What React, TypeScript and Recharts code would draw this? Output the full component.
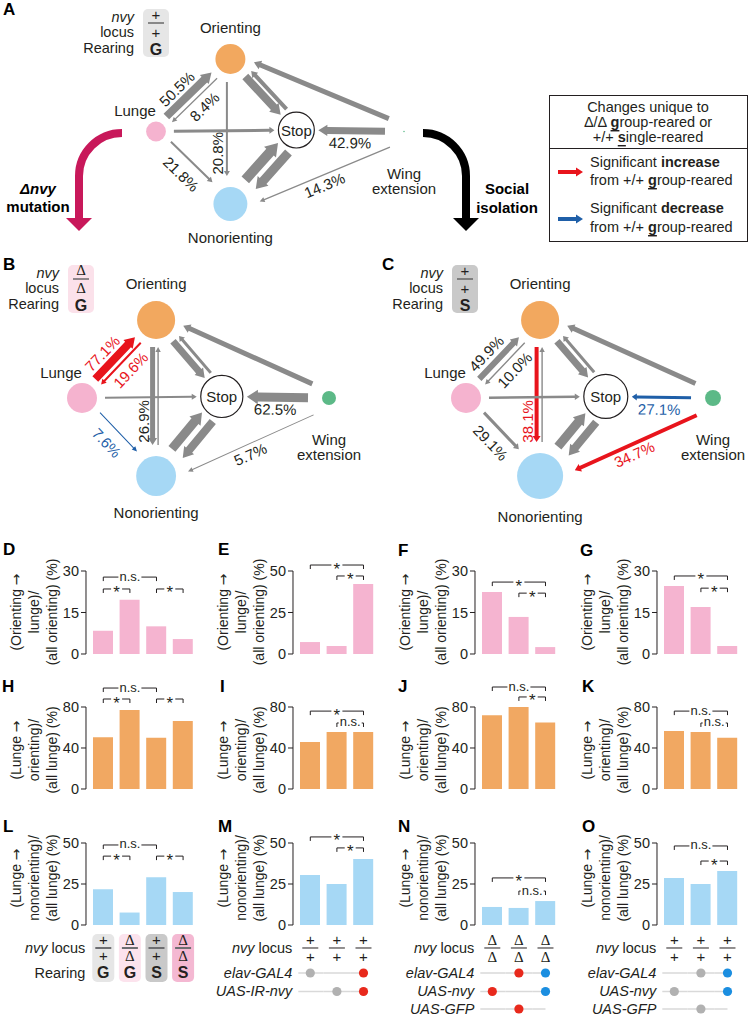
import React from 'react';
import {
  BarChart,
  Bar,
  XAxis,
  YAxis,
  ZAxis,
  ReferenceLine,
  ScatterChart,
  Scatter,
} from 'recharts';

const FONT = '"Liberation Sans", Arial, Helvetica, sans-serif';
const SERIF = '"Liberation Serif", "Times New Roman", serif';
const ARROW_FONT = '"DejaVu Sans", "Liberation Sans", sans-serif';
const INK = '#231f20';
const ARROW_GRAY = '#8a8a8a';
const RED = '#e8141c';
const BLUE = '#1f5fa8';
const PINK = '#f5b4d0';
const ORANGE = '#f1a862';
const SKY = '#a6d8f5';

// ---------- transition networks (A-C) ----------
const nodeCodes = ['O', 'L', 'S', 'W', 'N'];
const nodeNames = ['Orienting', 'Lunge', 'Stop', 'Wing extension', 'Nonorienting'];
// relative node sizes (occupancy)
const nodeFreqA = [39, 17, 56, 0.1, 50];
const nodeFreqB = [63, 39, 77, 8.5, 69];
const nodeFreqC = [63, 39, 84, 11, 92];

// from, to, weight (arrow thickness), label, change vs +/+ group
type Edge = [string, string, number, string, string];
const edgesA: Edge[] = [
  ['L', 'O', 80, '50.5%', ''],
  ['O', 'L', 12, '8.4%', ''],
  ['O', 'N', 20, '20.8%', ''],
  ['L', 'S', 30, '', ''],
  ['L', 'N', 20, '21.8%', ''],
  ['O', 'S', 80, '', ''],
  ['S', 'O', 40, '', ''],
  ['N', 'S', 100, '', ''],
  ['S', 'N', 90, '', ''],
  ['W', 'O', 50, '', ''],
  ['W', 'S', 70, '42.9%', ''],
  ['W', 'N', 12, '14.3%', ''],
];
const edgesB: Edge[] = [
  ['L', 'O', 80, '77.1%', 'up'],
  ['O', 'L', 20, '19.6%', 'up'],
  ['O', 'N', 50, '26.9%', ''],
  ['N', 'O', 14, '', ''],
  ['L', 'S', 20, '', ''],
  ['L', 'N', 10, '7.6%', 'down'],
  ['O', 'S', 70, '', ''],
  ['S', 'O', 30, '', ''],
  ['N', 'S', 90, '', ''],
  ['S', 'N', 80, '', ''],
  ['W', 'O', 50, '', ''],
  ['W', 'S', 90, '62.5%', ''],
  ['W', 'N', 10, '5.7%', ''],
];
const edgesC: Edge[] = [
  ['L', 'O', 60, '49.9%', ''],
  ['O', 'L', 14, '10.0%', ''],
  ['O', 'N', 40, '38.1%', 'up'],
  ['N', 'O', 14, '', ''],
  ['L', 'S', 25, '', ''],
  ['L', 'N', 30, '29.1%', ''],
  ['O', 'S', 70, '', ''],
  ['S', 'O', 30, '', ''],
  ['N', 'S', 90, '', ''],
  ['S', 'N', 80, '', ''],
  ['W', 'O', 50, '', ''],
  ['W', 'S', 30, '27.1%', 'down'],
  ['W', 'N', 40, '34.7%', 'up'],
];

// layout of the diagram (unit box: lunge..wing across, orienting..nonorienting down)
const nodeXY: Record<string, [number, number]> = {
  O: [0.3, 0],
  L: [0, 0.5],
  S: [0.566, 0.49],
  W: [1, 0.5],
  N: [0.3, 1],
};
const nodeGap: Record<string, number> = { O: 8, L: 8, S: 4, W: 14, N: 11 };
const edgeShift: Record<string, number> = {
  LO: -3.5, OL: -4.5, ON: 3.5, NO: 2, OS: 1, SO: 7, NS: -5, SN: -9,
  LS: 0, LN: -3, WO: 6, WS: 0, WN: -9,
};
const labelAt: Record<string, [number, number]> = {
  LO: [0.43, -16], OL: [0.5, -16], ON: [0.65, 13], LN: [0.46, 13], WS: [0.5, -12], WN: [0.5, -19],
};
const nodeFill: Record<string, string> = {
  O: '#f2a85f', L: '#f5b3cf', S: '#ffffff', W: '#5cb987', N: '#a6d8f5',
};
const R_MAX = 24;
const rOf = (z: number) => R_MAX * Math.sqrt(z / 100);

// ---------- bar panels (D-O) ----------
const cats4 = ['0', '1', '2', '3'];
const dValues = [8.4, 19.6, 10.0, 5.4];
const eValues = [7.2, 4.8, 42.2];
const fValues = [22.4, 13.4, 2.5];
const gValues = [24.6, 17.0, 2.9];
const hValues = [50.5, 77.1, 49.9, 66.3];
const iValues = [45.9, 55.6, 55.6];
const jValues = [72.0, 80.0, 65.0];
const kValues = [56.6, 55.6, 50.0];
const lValues = [21.8, 7.6, 29.1, 20.1];
const mValues = [30.5, 25.0, 40.2];
const nValues = [11.0, 10.4, 14.6];
const oValues = [28.6, 25.0, 32.9];

const ticks30 = [0, 15, 30];
const ticks50 = [0, 25, 50];
const ticks80 = [0, 40, 80];

type Sig = [number, number, string, number];
const sigD: Sig[] = [[0, 2, 'n.s.', 27.8], [0, 1, '*', 23.5], [2, 3, '*', 23.5]];
const sigE: Sig[] = [[0, 2, '*', 53.6], [1, 2, '*', 47]];
const sigF: Sig[] = [[0, 2, '*', 26], [1, 2, '*', 22]];
const sigG: Sig[] = [[0, 2, '*', 28.2], [1, 2, '*', 23.8]];
const sigH: Sig[] = [[0, 2, 'n.s.', 98.5], [0, 1, '*', 87.8], [2, 3, '*', 87.8]];
const sigI: Sig[] = [[0, 2, '*', 76], [1, 2, 'n.s.', 64.4]];
const sigJ: Sig[] = [[0, 2, 'n.s.', 99.5], [1, 2, '*', 89.8]];
const sigK: Sig[] = [[0, 2, 'n.s.', 76], [1, 2, 'n.s.', 64.4]];
const sigL: Sig[] = [[0, 2, 'n.s.', 48.8], [0, 1, '*', 42], [2, 3, '*', 42]];
const sigM: Sig[] = [[0, 2, '*', 53.7], [1, 2, '*', 47]];
const sigN: Sig[] = [[0, 2, '*', 28.7], [1, 2, 'n.s.', 20.7]];
const sigO: Sig[] = [[0, 2, 'n.s.', 48.2], [1, 2, '*', 39]];

// genotypes under L-O
const lLocus = ['+', 'Δ', '+', 'Δ'];
const lRearing = ['G', 'G', 'S', 'S'];
const lBoxFill = ['#e6e6e6', '#fce3ed', '#c9c9c9', '#f4b8d2'];
const mLocus = ['+', '+', '+'];
const mRows = [
  { label: 'elav-GAL4', dots: ['g', '', 'r'] },
  { label: 'UAS-IR-nvy', dots: ['', 'g', 'r'] },
];
const nLocus = ['Δ', 'Δ', 'Δ'];
const nRows = [
  { label: 'elav-GAL4', dots: ['', 'r', 'b'] },
  { label: 'UAS-nvy', dots: ['r', '', 'b'] },
  { label: 'UAS-GFP', dots: ['', 'r', ''] },
];
const oLocus = ['+', '+', '+'];
const oRows = [
  { label: 'elav-GAL4', dots: ['', 'g', 'b'] },
  { label: 'UAS-nvy', dots: ['g', '', 'b'] },
  { label: 'UAS-GFP', dots: ['', 'g', ''] },
];
const dotFill: Record<string, string> = { g: '#b1b1b1', r: '#e8291c', b: '#1b8ee0' };

const ylabRow1 = [['(Orienting ', '→'], ['lunge)/'], ['(all orienting) (%)']];
const ylabRow2 = [['(Lunge ', '→'], ['orienting)/'], ['(all lunge) (%)']];
const ylabRow3 = [['(Lunge ', '→'], ['nonorienting)/'], ['(all lunge) (%)']];

const COL_LEFT = [0, 200, 375, 565];
const AXIS_X = [86, 293, 475, 657];
const ROWS = [
  { top: 553, height: 112, mTop: 18, mBottom: 11, xh: 0, labelCy: 612, ylab: ylabRow1, color: PINK },
  { top: 675, height: 125, mTop: 32, mBottom: 11, xh: 0, labelCy: 750, ylab: ylabRow2, color: ORANGE },
  { top: 826, height: 190, mTop: 17, mBottom: 0, xh: 91, labelCy: 878, ylab: ylabRow3, color: SKY },
];
const BAND = 26.6;
const PAD = 4;

const barPanels = [
  { values: dValues, ticks: ticks30, sig: sigD, row: 0, col: 0 },
  { values: eValues, ticks: ticks50, sig: sigE, row: 0, col: 1 },
  { values: fValues, ticks: ticks30, sig: sigF, row: 0, col: 2 },
  { values: gValues, ticks: ticks30, sig: sigG, row: 0, col: 3 },
  { values: hValues, ticks: ticks80, sig: sigH, row: 1, col: 0 },
  { values: iValues, ticks: ticks80, sig: sigI, row: 1, col: 1 },
  { values: jValues, ticks: ticks80, sig: sigJ, row: 1, col: 2 },
  { values: kValues, ticks: ticks80, sig: sigK, row: 1, col: 3 },
  { values: lValues, ticks: ticks50, sig: sigL, row: 2, col: 0, geno: { kind: 'box', locus: lLocus, rearing: lRearing, fill: lBoxFill } },
  { values: mValues, ticks: ticks50, sig: sigM, row: 2, col: 1, geno: { kind: 'dots', locus: mLocus, rows: mRows } },
  { values: nValues, ticks: ticks50, sig: sigN, row: 2, col: 2, geno: { kind: 'dots', locus: nLocus, rows: nRows } },
  { values: oValues, ticks: ticks50, sig: sigO, row: 2, col: 3, geno: { kind: 'dots', locus: oLocus, rows: oRows } },
];

const panelLetters: [string, number, number][] = [
  ['A', 3, 15], ['B', 3, 270], ['C', 382, 270],
  ['D', 3, 555], ['E', 218, 555], ['F', 398, 556], ['G', 580, 556],
  ['H', 2, 692], ['I', 220, 692], ['J', 398, 692], ['K', 582, 692],
  ['L', 3, 832], ['M', 218, 832], ['N', 398, 832], ['O', 582, 832],
];

// ---------- network pieces ----------
function clearance(code: string, r: number) {
  const c = r + nodeGap[code];
  return code === 'W' ? Math.max(c, 19) : c;
}

function FlowArrow(props: any) {
  const { x1, y1, x2, y2, edge, radius } = props;
  const [f, t, weight, label, change] = edge as Edge;
  const key = f + t;
  const dx = x2 - x1;
  const dy = y2 - y1;
  const len = Math.hypot(dx, dy) || 1;
  const ux = dx / len;
  const uy = dy / len;
  const nx = -uy;
  const ny = ux;
  const off = edgeShift[key] ?? 0;
  const c0 = clearance(f, radius[f]);
  const c1 = clearance(t, radius[t]);
  const sx = x1 + ux * c0 + nx * off;
  const sy = y1 + uy * c0 + ny * off;
  const ex = x2 - ux * c1 + nx * off;
  const ey = y2 - uy * c1 + ny * off;
  const w = weight / 10;
  const hl = Math.max(5, w + 2);
  const hw = (w + Math.max(4, w * 0.6)) / 2;
  const bx = ex - ux * hl;
  const by = ey - uy * hl;
  const pts = [
    [sx + (nx * w) / 2, sy + (ny * w) / 2],
    [bx + (nx * w) / 2, by + (ny * w) / 2],
    [bx + nx * hw, by + ny * hw],
    [ex, ey],
    [bx - nx * hw, by - ny * hw],
    [bx - (nx * w) / 2, by - (ny * w) / 2],
    [sx - (nx * w) / 2, sy - (ny * w) / 2],
  ]
    .map((p) => p.map((v) => v.toFixed(2)).join(','))
    .join(' ');
  const color = change === 'up' ? RED : change === 'down' ? BLUE : ARROW_GRAY;
  const la = labelAt[key];
  let text = null;
  if (label && la) {
    const lx = x1 + dx * la[0] + nx * la[1];
    const ly = y1 + dy * la[0] + ny * la[1];
    let ang = (Math.atan2(dy, dx) * 180) / Math.PI;
    if (ang >= 90) ang -= 180;
    if (ang < -90) ang += 180;
    text = (
      <text
        x={lx}
        y={ly}
        transform={`rotate(${ang.toFixed(2)} ${lx} ${ly})`}
        textAnchor="middle"
        dominantBaseline="central"
        fontSize={15}
        fontFamily={FONT}
        fill={change === 'up' ? RED : change === 'down' ? BLUE : INK}
      >
        {label}
      </text>
    );
  }
  return (
    <g>
      <polygon points={pts} fill={color} />
      {text}
    </g>
  );
}

function NodeMark(props: any) {
  const { cx, cy, payload } = props;
  const r = props.size ? Math.sqrt(props.size / Math.PI) : rOf(payload.z);
  const c = payload.code;
  const txt = { fontSize: 15, fontFamily: FONT, fill: INK, textAnchor: 'middle' as const, dominantBaseline: 'central' as const };
  if (c === 'S') {
    return (
      <g>
        <circle cx={cx} cy={cy} r={r} fill="#fff" stroke={INK} strokeWidth={1.2} />
        <text x={cx} y={cy} {...txt}>Stop</text>
      </g>
    );
  }
  let label = null;
  if (c === 'O') label = <text x={cx} y={cy - r - 17} {...txt}>{payload.name}</text>;
  if (c === 'N') label = <text x={cx} y={cy + r + 17} {...txt}>{payload.name}</text>;
  if (c === 'L') label = <text x={cx - 21} y={cy - r - 11} {...txt}>{payload.name}</text>;
  if (c === 'W')
    label = (
      <text x={cx} y={cy + 41} {...txt}>
        <tspan x={cx} dy={0}>Wing</tspan>
        <tspan x={cx} dy={15}>extension</tspan>
      </text>
    );
  return (
    <g>
      <circle cx={cx} cy={cy} r={Math.max(r, 0.6)} fill={nodeFill[c]} />
      {label}
    </g>
  );
}

function Network({ left, top, width, height, margin, freqs, edges }: any) {
  const radius: Record<string, number> = {};
  nodeCodes.forEach((c, i) => {
    radius[c] = rOf(freqs[i]);
  });
  const nodes = nodeCodes.map((c, i) => ({
    x: nodeXY[c][0],
    y: nodeXY[c][1],
    z: freqs[i],
    code: c,
    name: nodeNames[i],
  }));
  return (
    <div style={{ position: 'absolute', left, top }}>
      <ScatterChart width={width} height={height} margin={margin}>
        <XAxis type="number" dataKey="x" domain={[0, 1]} hide height={0} />
        <YAxis type="number" dataKey="y" domain={[0, 1]} reversed hide width={0} />
        <ZAxis type="number" dataKey="z" domain={[0, 100]} range={[0, Math.PI * R_MAX * R_MAX]} />
        {(edges as Edge[]).map((e) => (
          <ReferenceLine
            key={e[0] + e[1]}
            segment={[
              { x: nodeXY[e[0]][0], y: nodeXY[e[0]][1] },
              { x: nodeXY[e[1]][0], y: nodeXY[e[1]][1] },
            ]}
            ifOverflow="visible"
            shape={(p: any) => <FlowArrow {...p} edge={e} radius={radius} />}
          />
        ))}
        <Scatter data={nodes} isAnimationActive={false} shape={(p: any) => <NodeMark {...p} />} />
      </ScatterChart>
    </div>
  );
}

// ---------- bar pieces ----------
function Bracket(props: any) {
  const { x1, y1, x2, text } = props;
  const star = text === '*';
  const tw = star ? 9 : 21;
  const mid = (x1 + x2) / 2;
  return (
    <g>
      <path d={`M${x1},${y1 + 4}V${y1}H${x2}V${y1 + 4}`} fill="none" stroke={INK} strokeWidth={1} />
      <rect x={mid - tw / 2 - 1} y={y1 - 5} width={tw + 2} height={10} fill="#fff" />
      <text
        x={mid}
        y={star ? y1 + 9.5 : y1 + 3.5}
        textAnchor="middle"
        fontSize={star ? 17 : 13}
        fontFamily={FONT}
        fill={INK}
      >
        {text}
      </text>
    </g>
  );
}

function GenoTick(props: any) {
  const { x, y, payload, geno } = props;
  const i = Number(payload.value);
  const n = geno.locus.length;
  const sym = geno.locus[i];
  const delta = sym === 'Δ';
  const symStyle = {
    fontFamily: delta ? SERIF : FONT,
    fontSize: 15,
    fill: INK,
    textAnchor: 'middle' as const,
    dominantBaseline: 'central' as const,
  };
  const lab = {
    fontFamily: FONT,
    fontSize: 14.5,
    fill: INK,
    textAnchor: 'end' as const,
    dominantBaseline: 'central' as const,
  };
  const labX = x - 18;
  if (geno.kind === 'box') {
    return (
      <g>
        {i === 0 && (
          <>
            <text x={labX} y={y + 23} {...lab}>
              <tspan fontStyle="italic">nvy</tspan> locus
            </text>
            <text x={labX} y={y + 48} {...lab}>Rearing</text>
          </>
        )}
        <rect x={x - 11} y={y + 9} width={22} height={48} rx={5} fill={geno.fill[i]} />
        <text x={x} y={y + 15} {...symStyle}>{sym}</text>
        <line x1={x - 8} x2={x + 8} y1={y + 23} y2={y + 23} stroke="#6d6e71" strokeWidth={2} />
        <text x={x} y={y + 31} {...symStyle}>{sym}</text>
        <text x={x} y={y + 48} {...symStyle} fontFamily={FONT} fontWeight="bold" fontSize={16}>
          {geno.rearing[i]}
        </text>
      </g>
    );
  }
  const rowY = [48, 66.5, 84];
  return (
    <g>
      {i === 0 && (
        <text x={labX} y={y + 23} {...lab}>
          <tspan fontStyle="italic">nvy</tspan> locus
        </text>
      )}
      <text x={x} y={y + 15} {...symStyle}>{sym}</text>
      <line x1={x - 8} x2={x + 8} y1={y + 23} y2={y + 23} stroke={INK} strokeWidth={1} />
      <text x={x} y={y + 32} {...symStyle}>{sym}</text>
      {geno.rows.map((row: any, ri: number) => {
        const yy = y + rowY[ri];
        const xa = i === 0 ? x - 12 : x - BAND / 2;
        const xb = i === n - 1 ? x : x + BAND / 2;
        const d = row.dots[i];
        return (
          <g key={ri}>
            {i === 0 && (
              <text x={labX} y={yy} {...lab} fontStyle="italic">{row.label}</text>
            )}
            <line x1={xa} x2={xb} y1={yy} y2={yy} stroke="#d9d9d9" strokeWidth={1.5} />
            {d && <circle cx={x} cy={yy} r={4.6} fill={dotFill[d]} />}
          </g>
        );
      })}
    </g>
  );
}

function BarPanel({ cfg }: any) {
  const { values, ticks, sig, row, col, geno } = cfg;
  const r = ROWS[row];
  const left = COL_LEFT[col];
  const yw = AXIS_X[col] - left;
  const width = yw + values.length * BAND + PAD;
  const data = values.map((v: number, i: number) => ({ k: cats4[i], v }));
  return (
    <div style={{ position: 'absolute', left, top: r.top }}>
      <BarChart
        width={width}
        height={r.height}
        data={data}
        margin={{ top: r.mTop, right: 0, bottom: r.mBottom, left: 0 }}
        barCategoryGap={0}
      >
        <XAxis
          dataKey="k"
          type="category"
          padding={{ left: PAD, right: 0 }}
          axisLine={false}
          tickLine={false}
          tickSize={0}
          tickMargin={0}
          interval={0}
          height={r.xh}
          tick={geno ? (p: any) => <GenoTick {...p} geno={geno} /> : false}
        />
        <YAxis
          type="number"
          domain={[0, ticks[ticks.length - 1]]}
          ticks={ticks}
          interval={0}
          width={yw}
          axisLine={{ stroke: INK }}
          tickLine={{ stroke: INK }}
          tickSize={5}
          tickMargin={2}
          tick={{ fill: INK, fontSize: 14.5, fontFamily: FONT }}
        />
        <Bar dataKey="v" fill={r.color} barSize={20} isAnimationActive={false} />
        {(sig as Sig[]).map(([a, b, text, level], si) => (
          <ReferenceLine
            key={si}
            segment={[
              { x: cats4[a], y: level },
              { x: cats4[b], y: level },
            ]}
            ifOverflow="visible"
            shape={(p: any) => <Bracket {...p} text={text} />}
          />
        ))}
      </BarChart>
    </div>
  );
}

// ---------- static annotation layer ----------
function LocusTag({ dx, dy, sym, rear, fill }: any) {
  const tx = 134 + dx;
  const bx = 143 + dx;
  const t = { fontFamily: FONT, fontSize: 14.5, fill: INK, dominantBaseline: 'central' as const };
  const s = {
    fontFamily: sym === 'Δ' ? SERIF : FONT,
    fontSize: 15,
    fill: INK,
    textAnchor: 'middle' as const,
    dominantBaseline: 'central' as const,
  };
  return (
    <g>
      <text x={tx} y={17 + dy} {...t} textAnchor="end" fontStyle="italic">nvy</text>
      <text x={tx} y={32 + dy} {...t} textAnchor="end">locus</text>
      <text x={tx} y={48 + dy} {...t} textAnchor="end">Rearing</text>
      <rect x={bx} y={9 + dy} width={26} height={48} rx={5} fill={fill} />
      <text x={bx + 13} y={14 + dy} {...s}>{sym}</text>
      <line x1={bx + 5} x2={bx + 21} y1={23 + dy} y2={23 + dy} stroke="#555" strokeWidth={1.3} />
      <text x={bx + 13} y={32 + dy} {...s}>{sym}</text>
      <text x={bx + 13} y={49 + dy} {...s} fontFamily={FONT} fontWeight="bold" fontSize={16}>{rear}</text>
    </g>
  );
}

function YLabel({ lines, x0, cy }: any) {
  return (
    <text
      transform={`rotate(-90 ${x0} ${cy})`}
      x={x0}
      y={cy}
      textAnchor="middle"
      fontSize={14}
      fontFamily={FONT}
      fill={INK}
    >
      {lines.map((l: string[], i: number) => (
        <tspan key={i} x={x0} dy={i === 0 ? 0 : 18}>
          {l[0]}
          {l[1] && <tspan fontFamily={ARROW_FONT}>{l[1]}</tspan>}
        </tspan>
      ))}
    </text>
  );
}

function Overlay() {
  const lt = { fontFamily: FONT, fontSize: 14.5, fill: INK, dominantBaseline: 'central' as const };
  const bold = { fontFamily: FONT, fontWeight: 'bold' as const, fontSize: 15, dominantBaseline: 'central' as const, fill: '#000', textAnchor: 'middle' as const };
  return (
    <svg width={750} height={1016} style={{ position: 'absolute', left: 0, top: 0 }}>
      {panelLetters.map(([l, x, y]) => (
        <text key={l} x={x} y={y} fontFamily={FONT} fontWeight="bold" fontSize={17} fill="#000">
          {l}
        </text>
      ))}
      <LocusTag dx={0} dy={0} sym="+" rear="G" fill="#e6e6e6" />
      <LocusTag dx={-75} dy={256} sym="Δ" rear="G" fill="#fbe1ea" />
      <LocusTag dx={309} dy={256} sym="+" rear="S" fill="#c9c9c9" />

      <path d="M122,133 A43,43 0 0 0 79,176 V219" fill="none" stroke="#c8185a" strokeWidth={8} />
      <polygon points="66,218 92,218 79,231" fill="#c8185a" />
      <path d="M423,133 A43,43 0 0 1 466,176 V219" fill="none" stroke="#000" strokeWidth={8} />
      <polygon points="453,218 479,218 466,231" fill="#000" />
      <text x={38} y={188} {...bold}>
        <tspan fontStyle="italic">Δnvy</tspan>
      </text>
      <text x={38} y={206} {...bold}>mutation</text>
      <text x={507} y={188} {...bold}>Social</text>
      <text x={507} y={207} {...bold}>isolation</text>

      <rect x={549.5} y={95.5} width={198} height={146} fill="#fff" stroke={INK} strokeWidth={1} />
      <line x1={549.5} x2={747.5} y1={148.5} y2={148.5} stroke={INK} strokeWidth={1} />
      <text x={648} y={107} {...lt} textAnchor="middle">Changes unique to</text>
      <text x={648} y={122} {...lt} textAnchor="middle">
        Δ/Δ <tspan fontWeight="bold" textDecoration="underline">g</tspan>roup-reared or
      </text>
      <text x={648} y={137} {...lt} textAnchor="middle">
        +/+ <tspan fontWeight="bold" textDecoration="underline">s</tspan>ingle-reared
      </text>
      <polygon points="558,170 576,170 576,167.5 583,172 576,176.5 576,174 558,174" fill={RED} />
      <text x={590} y={162} {...lt}>
        Significant <tspan fontWeight="bold">increase</tspan>
      </text>
      <text x={590} y={180} {...lt}>
        from +/+ <tspan fontWeight="bold" textDecoration="underline">g</tspan>roup-reared
      </text>
      <polygon points="558,217 576,217 576,214.5 583,219 576,223.5 576,221 558,221" fill={BLUE} />
      <text x={590} y={208} {...lt}>
        Significant <tspan fontWeight="bold">decrease</tspan>
      </text>
      <text x={590} y={227} {...lt}>
        from +/+ <tspan fontWeight="bold" textDecoration="underline">g</tspan>roup-reared
      </text>

      {ROWS.map((r, ri) =>
        AXIS_X.map((ax, ci) => (
          <YLabel key={`${ri}-${ci}`} lines={r.ylab} x0={ax - 65} cy={r.labelCy} />
        )),
      )}
    </svg>
  );
}

export default function App() {
  return (
    <div style={{ position: 'relative', width: 750, height: 1016, background: '#fff', fontFamily: FONT }}>
      <style>{'body{margin:0}'}</style>
      <Overlay />
      <Network
        left={0}
        top={0}
        width={470}
        height={258}
        margin={{ top: 59, left: 156, right: 66, bottom: 54 }}
        freqs={nodeFreqA}
        edges={edgesA}
      />
      <Network
        left={0}
        top={258}
        width={375}
        height={272}
        margin={{ top: 62, left: 82, right: 46, bottom: 54 }}
        freqs={nodeFreqB}
        edges={edgesB}
      />
      <Network
        left={375}
        top={258}
        width={375}
        height={272}
        margin={{ top: 62, left: 91, right: 37, bottom: 54 }}
        freqs={nodeFreqC}
        edges={edgesC}
      />
      {barPanels.map((p, i) => (
        <BarPanel key={i} cfg={p} />
      ))}
    </div>
  );
}
